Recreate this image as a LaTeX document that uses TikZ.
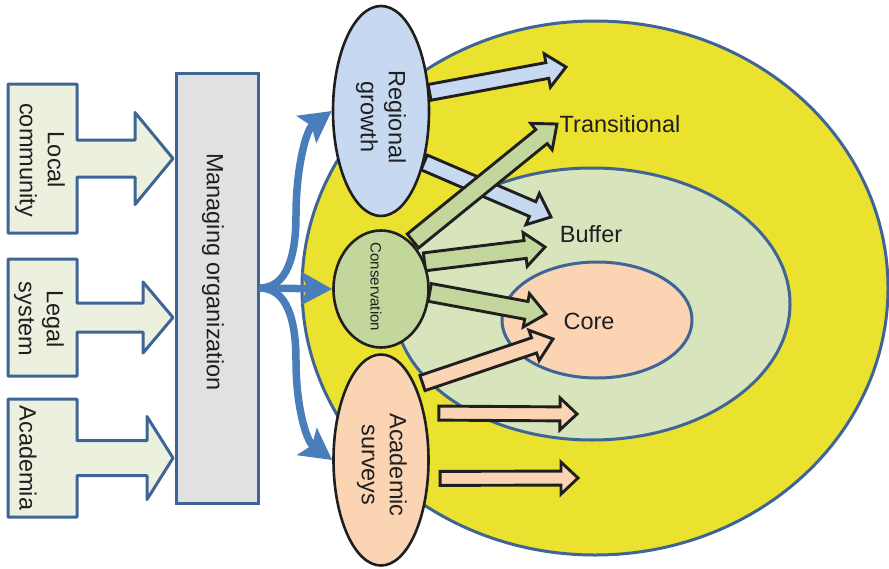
\documentclass[tikz,border=0pt]{standalone}
\usepackage{fontspec}
\setmainfont{Liberation Sans}
\usetikzlibrary{calc,shapes.geometric,arrows.meta}

\definecolor{zoneline}{HTML}{3F6596}
\definecolor{transfill}{HTML}{EBE12F}
\definecolor{bufferfill}{HTML}{D8E4BC}
\definecolor{corefill}{HTML}{FBD4B4}
\definecolor{growthfill}{HTML}{C6D9F1}
\definecolor{consfill}{HTML}{C3D69B}
\definecolor{srcfill}{HTML}{EBF1DE}
\definecolor{orgfill}{HTML}{E1E1E1}
\definecolor{flowblue}{HTML}{4A7EBB}
\definecolor{inkdark}{HTML}{1F1F1F}

\tikzset{
  zone/.style={ellipse, draw=zoneline, line width=3pt, inner sep=0pt},
  actor/.style={ellipse, draw=inkdark, line width=2.6pt, inner sep=0pt},
  srcbox/.style={draw=zoneline, line width=3pt, fill=srcfill, line join=round},
  orgbox/.style={rectangle, draw=zoneline, line width=3pt, fill=orgfill},
  bigtext/.style={font=\fontsize{23.5}{28}\selectfont, text=inkdark, inner sep=0pt},
  vtext/.style={bigtext, rotate=-90, align=center},
  flow/.style={draw=flowblue, line width=7.5pt,
    -{Stealth[length=31pt,width=33pt,inset=6pt]}},
  blockarrow/.style={draw=inkdark, line width=2.9pt, line join=miter}
}

% Block arrow: style, start, tip, start gap, shaft half width, head half width, head length
\newcommand{\zonearrow}[7]{%
  \coordinate (za-s) at ($(#2)!#4!(#3)$);
  \coordinate (za-b) at ($(#3)!#7!(za-s)$);
  \draw[blockarrow,#1] ($(za-s)!#5!90:(#3)$) -- ($(za-b)!#5!-90:(za-s)$)
    -- ($(za-b)!#6!-90:(za-s)$) -- (#3) -- ($(za-b)!#6!90:(za-s)$)
    -- ($(za-b)!#5!90:(za-s)$) -- ($(za-s)!#5!-90:(#3)$) -- cycle;
}

% Source box with an arrow pointing right: top, bottom, shaft half, head start x, head half
\newcommand{\sourcebox}[5]{%
  \draw[srcbox] (8,#1) -- (77,#1) -- (77,{(#1+#2)/2-#3}) -- (#4,{(#1+#2)/2-#3})
    -- (#4,{(#1+#2)/2-#5}) -- (173,{(#1+#2)/2}) -- (#4,{(#1+#2)/2+#5})
    -- (#4,{(#1+#2)/2+#3}) -- (77,{(#1+#2)/2+#3}) -- (77,#2) -- (8,#2) -- cycle;
}

\begin{document}
\begin{tikzpicture}[x=1pt,y=-1pt]
\useasboundingbox (0,0) rectangle (889,568);

% nested zones
\node[zone, fill=transfill, minimum width=586pt, minimum height=534pt] (transzone) at (595,288) {};
\node[zone, fill=bufferfill, minimum width=396pt, minimum height=272pt] (bufzone) at (592,304) {};
\node[zone, fill=corefill, minimum width=190pt, minimum height=116pt] (corezone) at (597,320) {};

\node[bigtext] (translabel) at (620,124) {Transitional};
\node[bigtext] (buflabel) at (591,234) {Buffer};
\node[bigtext] (corelabel) at (589,321) {Core};

% actors (shapes only, used as anchors for the arrows)
\path (381,111) node[ellipse, minimum width=96pt, minimum height=210pt, inner sep=0pt, line width=2.6pt] (growth) {};
\path (381,289) node[ellipse, minimum width=95pt, minimum height=117pt, inner sep=0pt, line width=2.6pt] (cons) {};
\path (381,460) node[ellipse, minimum width=95pt, minimum height=211pt, inner sep=0pt, line width=2.6pt] (survey) {};

% arrow tips
\coordinate (t1) at (566,67);
\coordinate (t2) at (551,217);
\coordinate (t3) at (557,124);
\coordinate (t4) at (545,247);
\coordinate (t5) at (546,314);
\coordinate (t6) at (553,339);
\coordinate (t7) at (577,414);
\coordinate (t8) at (578,478);

% regional growth reaches transitional and buffer zones
\zonearrow{fill=growthfill}{growth.21}{t1}{0pt}{8pt}{17pt}{19pt}
\zonearrow{fill=growthfill}{growth.-50}{t2}{0pt}{8pt}{17pt}{20pt}
% conservation reaches all three zones
\zonearrow{fill=consfill}{cons.57}{t3}{2pt}{9pt}{17pt}{20pt}
\zonearrow{fill=consfill}{cons.32}{t4}{0pt}{9pt}{17pt}{20pt}
\zonearrow{fill=consfill}{cons.-4}{t5}{0pt}{9pt}{17pt}{20pt}
% academic surveys
\zonearrow{fill=corefill}{survey.65}{t6}{7pt}{8pt}{16pt}{20pt}
\zonearrow{fill=corefill}{survey.47}{t7}{14pt}{7pt}{16pt}{17pt}
\zonearrow{fill=corefill}{survey.-21}{t8}{11pt}{7pt}{16pt}{17pt}

% actors drawn
\node[actor, fill=growthfill, minimum width=96pt, minimum height=210pt] (growthshape) at (growth) {};
\node[actor, fill=consfill, minimum width=95pt, minimum height=117pt] (consshape) at (cons) {};
\node[actor, fill=corefill, minimum width=95pt, minimum height=211pt] (surveyshape) at (survey) {};
\node[vtext] (growthtext) at (381,117) {Regional\\growth};
\node[vtext, font=\fontsize{15}{18}\selectfont] (constext) at (376,287) {Conservation};
\node[vtext] (surveytext) at (382,465) {Academic\\surveys};

% managing organization
\node[orgbox, minimum width=82pt, minimum height=430pt] (mo) at (217,288) {};
\node[vtext] (motext) at (213,272) {Managing organization};

% sources
\sourcebox{84}{233}{18.5}{135}{46}
\sourcebox{259}{376}{14.5}{143}{35.5}
\sourcebox{399}{517}{17.5}{147}{41.5}
\node[vtext] (localtext) at (40,160) {Local\\community};
\node[vtext] (legaltext) at (39,319) {Legal\\system};
\node[vtext] (acadtext) at (28,458) {Academia};

% management flows
\draw[flow] (mo.east) .. controls +(28,0) and +(0,40) .. (296,215)
  .. controls +(0,-45) and +(-26,19) .. (growth.west);
\draw[flow] (mo.east) -- (cons.west);
\draw[flow] (mo.east) .. controls +(28,0) and +(0,-40) .. (296,361)
  .. controls +(0,45) and +(-26,-19) .. (survey.west);
\end{tikzpicture}
\end{document}
